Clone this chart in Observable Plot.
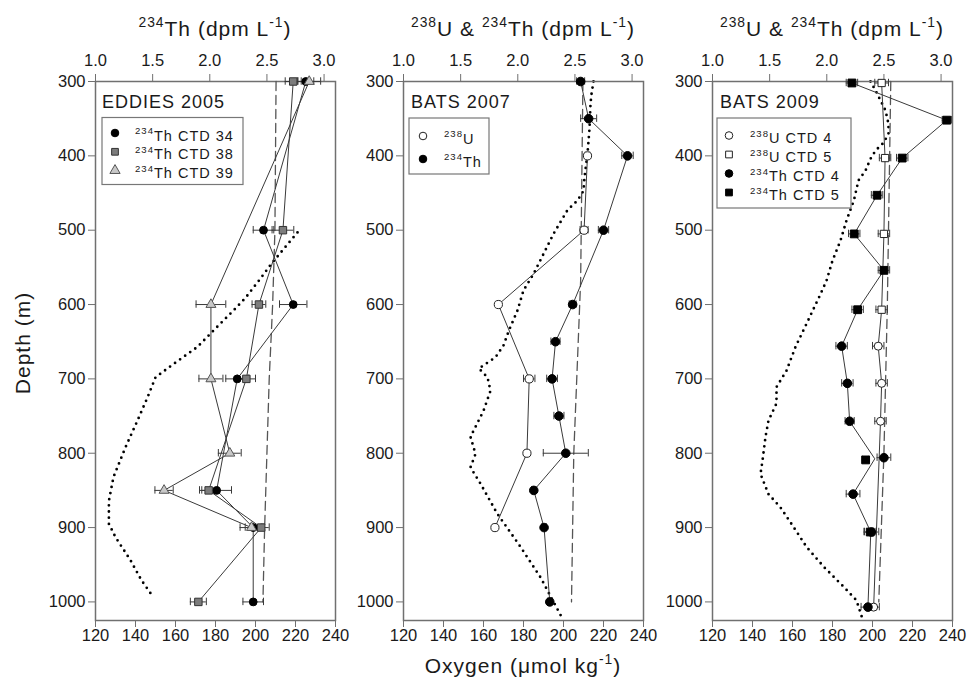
<!DOCTYPE html>
<html><head><meta charset="utf-8">
<script src="https://cdn.jsdelivr.net/npm/d3@7"></script>
<script src="https://cdn.jsdelivr.net/npm/@observablehq/plot@0.6"></script>
<style>
body{margin:0;background:#fff;}
#wrap{position:relative;width:968px;height:680px;overflow:hidden;}
#wrap svg{position:absolute;left:0;top:0;}
</style></head><body><div id="wrap"></div>
<script>
// ---------- tick labels ----------
const depthTicks = [300,400,500,600,700,800,900,1000];
const oxygenTicks = [120,140,160,180,200,220,240];
const thTicks = [1.0,1.5,2.0,2.5,3.0];

// ---------- Panel 1: EDDIES 2005 ----------
const e34Depth = [300,500,600,700,850,900,1000];
const e34Th    = [2.84,2.47,2.73,2.24,2.06,2.38,2.38];
const e34Err   = [0.07,0.09,0.12,0.10,0.13,0.07,0.09];
const e38Depth = [300,500,600,700,850,900,1000];
const e38Th    = [2.73,2.64,2.43,2.32,1.99,2.45,1.90];
const e38Err   = [0.07,0.095,0.06,0.08,0.08,0.07,0.07];
const e39Depth = [300,600,700,800,850,900];
const e39Th    = [2.87,2.01,2.01,2.175,1.60,2.365];
const e39Err   = [0.10,0.13,0.105,0.10,0.08,0.10];
const u2005Depth = [300,500,600,700,800,900,1000];
const u2005      = [2.58,2.57,2.55,2.52,2.50,2.48,2.465];
const oxy2005Depth = [503,545,565,591,608,635,657,680,698,725,756,792,832,864,895,913,944,971,994];
const oxy2005      = [221,208,202.5,195,189,179,171,159,150,146,141,135,129,126.7,126.7,130,137.5,143,149];

// ---------- Panel 2: BATS 2007 ----------
const u2007Depth = [400,500,600,700,800,900];
const u2007      = [2.61,2.58,1.83,2.10,2.08,1.80];
const u2007Err   = [0.02,0.035,0,0.05,0,0];
const th2007Depth = [300,350,400,500,600,650,700,750,800,850,900,1000];
const th2007      = [2.55,2.62,2.96,2.75,2.48,2.33,2.30,2.36,2.42,2.14,2.23,2.28];
const th2007Err   = [0.035,0.07,0.05,0.045,0.03,0.04,0.047,0.044,0.197,0.02,0.02,0.02];
const uRef2007Depth = [300,568,800,1000];
const uRef2007      = [2.57,2.55,2.49,2.47];
const oxy2007Depth = [300,317,330,364,397,429,447,460,473,505,532,559,581,608,635,655,671,686,698,716,743,778,801,819,841,881,926,967,1020];
const oxy2007      = [215,214,213.5,213,212,210.5,210,207,202,195,190,185,180,177,172.7,170,166,157.7,162,163.5,160,153.5,156,153.5,158.5,166.8,178.5,188.5,199];

// ---------- Panel 3: BATS 2009 ----------
const u4Depth = [656,706,757,1007];
const u4      = [2.45,2.48,2.47,2.41];
const u4Err   = [0.05,0.05,0.05,0.05];
const u5Depth = [302,403,505,607];
const u5      = [2.48,2.51,2.50,2.48];
const u5Err   = [0.06,0.05,0.05,0.05];
const th4Depth = [656,706,757,806,855,906,1007];
const th4      = [2.13,2.18,2.20,2.50,2.23,2.39,2.36];
const th4Err   = [0.05,0.05,0.04,0.06,0.06,0.065,0.06];
const th5Depth = [302,352,403,453,505,554,607,809,906];
const th5      = [2.22,3.05,2.66,2.44,2.24,2.50,2.27,2.34,2.38];
const th5Err   = [0.05,0.04,0.05,0.05,0.05,0.05,0.05,0.03,0.05];
const uRef2009Depth = [300,600,800,1000];
const uRef2009      = [2.56,2.53,2.50,2.455];
const oxy2009Depth = [300,312,339,357,370,382,393,404,420,433,460,487,514,541,568,586,626,657,689,711,733,756,778,810,828,855,873,900,926,953,980,998,1023];
const oxy2009      = [199,201.5,206.5,208,208,205.7,201.5,199,196.5,193,190.7,187,184,180,177,174,167,161.5,157,152,152,148,146.5,145,144,148,154,160.7,167,175.7,185.7,192,195];

// ---------- helpers ----------
const rows = (depth, val, err) => depth.map((d, i) => ({depth: d, v: val[i], e: err ? err[i] : 0}));
const FONT = '"Liberation Sans", Arial, Helvetica, sans-serif';
const W = 968, H = 680, TOP = 81, BOTTOM = 60, PW = 240;
const AXIS = "#707070", INK = "#1a1a1a", LINE = "#3a3a3a";

const th5Rows = rows(th5Depth, th5, th5Err), th4Rows = rows(th4Depth, th4, th4Err);
const th2009Line = d3.rollups([...th5Rows, ...th4Rows], g => ({depth: d3.mean(g, d => d.depth), v: d3.mean(g, d => d.v)}), d => Math.round(d.depth / 50))
  .sort((a, b) => a[0] - b[0]).map(d => d[1]);
const u5Rows = rows(u5Depth, u5, u5Err), u4Rows = rows(u4Depth, u4, u4Err);
const u2009Line = [...u5Rows, ...u4Rows].sort((a, b) => a.depth - b.depth);

const panels = [
  {x0: 95, oxygen: rows(oxy2005Depth, oxy2005), uRef: rows(u2005Depth, u2005),
   lines: [rows(e34Depth, e34Th), rows(e38Depth, e38Th), rows(e39Depth, e39Th)],
   series: [
     {data: rows(e34Depth, e34Th, e34Err), symbol: "circle", r: 3.9, fill: "#000", stroke: "#000"},
     {data: rows(e38Depth, e38Th, e38Err), symbol: "square", r: 4.2, fill: "#7c7c7c", stroke: "#333"},
     {data: rows(e39Depth, e39Th, e39Err), symbol: "triangle", r: 3.7, fill: "#c8c8c8", stroke: "#555"}
   ]},
  {x0: 403, oxygen: rows(oxy2007Depth, oxy2007), uRef: rows(uRef2007Depth, uRef2007),
   lines: [rows(u2007Depth, u2007), rows(th2007Depth, th2007)],
   series: [
     {data: rows(u2007Depth, u2007, u2007Err), symbol: "circle", r: 4.1, fill: "#fff", stroke: "#222"},
     {data: rows(th2007Depth, th2007, th2007Err), symbol: "circle", r: 4.3, fill: "#000", stroke: "#000"}
   ]},
  {x0: 712, oxygen: rows(oxy2009Depth, oxy2009), uRef: rows(uRef2009Depth, uRef2009),
   lines: [u2009Line, th2009Line],
   series: [
     {data: u4Rows, symbol: "circle", r: 4.0, fill: "#fff", stroke: "#222"},
     {data: u5Rows, symbol: "square", r: 4.1, fill: "#fff", stroke: "#222"},
     {data: th4Rows, symbol: "circle", r: 4.3, fill: "#000", stroke: "#000"},
     {data: th5Rows, symbol: "square", r: 4.4, fill: "#000", stroke: "#000"}
   ]}
];

const base = p => ({
  width: W, height: H, marginLeft: p.x0, marginRight: W - p.x0 - PW, marginTop: TOP, marginBottom: BOTTOM,
  style: {background: "transparent", fontFamily: FONT, fontSize: "16.5px", color: INK, overflow: "visible"}
});

function oxygenPlot(p) {
  return Plot.plot({
    ...base(p),
    x: {domain: [120, 240]},
    y: {domain: [300, 1025], reverse: true},
    marks: [
      Plot.line(p.oxygen, {x: "v", y: "depth", stroke: "#000", strokeWidth: 2.8, strokeDasharray: "0 6.2", strokeLinecap: "round"}),
      Plot.frame({stroke: AXIS, strokeWidth: 1.5}),
      Plot.axisX({ticks: oxygenTicks, anchor: "bottom", tickSize: 7, tickPadding: 2, stroke: AXIS, fill: INK, label: null, tickFormat: "d"}),
      Plot.axisY({ticks: depthTicks, anchor: "left", tickSize: 7, tickPadding: 3, stroke: AXIS, fill: INK, label: null, tickFormat: "d"})
    ]
  });
}

function thPlot(p) {
  const errs = p.series.map(s => s.data.filter(d => d.e > 0));
  return Plot.plot({
    ...base(p),
    x: {domain: [1.0, 3.1]},
    y: {domain: [300, 1025], reverse: true, axis: null},
    marks: [
      Plot.axisX({ticks: thTicks, anchor: "top", tickSize: 8, tickPadding: 8, stroke: AXIS, fill: INK, label: null, tickFormat: ".1f"}),
      Plot.line(p.uRef, {x: "v", y: "depth", stroke: "#555", strokeWidth: 1.3, strokeDasharray: "9,5"}),
      ...p.lines.map(l => Plot.line(l, {x: "v", y: "depth", stroke: LINE, strokeWidth: 1})),
      ...errs.flatMap(e => [
        Plot.ruleY(e, {x1: d => d.v - d.e, x2: d => d.v + d.e, y: "depth", stroke: LINE, strokeWidth: 1}),
        Plot.ruleX(e, {x: d => d.v - d.e, y1: d => d.depth - 5, y2: d => d.depth + 5, stroke: LINE, strokeWidth: 1}),
        Plot.ruleX(e, {x: d => d.v + d.e, y1: d => d.depth - 5, y2: d => d.depth + 5, stroke: LINE, strokeWidth: 1})
      ]),
      ...p.series.map(s => Plot.dot(s.data, {x: "v", y: "depth", symbol: s.symbol, r: s.r, fill: s.fill, stroke: s.stroke, strokeWidth: 1}))
    ]
  });
}

const wrap = document.getElementById("wrap");
panels.forEach(p => wrap.appendChild(oxygenPlot(p)));
panels.forEach(p => wrap.appendChild(thPlot(p)));

// ---------- annotation layer: titles and legends ----------
const ann = d3.create("svg").attr("width", W).attr("height", H)
  .style("font-family", FONT).style("white-space", "pre");
function rich(x, y, parts, {size = 16, anchor = "start", ls = 1} = {}) {
  const t = ann.append("text").attr("x", x).attr("y", y).attr("font-size", size)
    .attr("text-anchor", anchor).attr("letter-spacing", ls).attr("fill", INK);
  let up = false;
  for (const [s, sup] of parts) {
    const ts = t.append("tspan").text(s);
    if (sup) { ts.attr("font-size", size * 0.66); if (!up) { ts.attr("dy", -size * 0.42); up = true; } }
    else if (up) { ts.attr("dy", size * 0.42); up = false; }
  }
  return t;
}
const thTitle = [["234", 1], ["Th (dpm L", 0], ["-1", 1], [")", 0]];
const uthTitle = [["238", 1], ["U & ", 0], ["234", 1], ["Th (dpm L", 0], ["-1", 1], [")", 0]];
rich(215, 36, thTitle, {size: 21, anchor: "middle"});
rich(523, 36, uthTitle, {size: 21, anchor: "middle"});
rich(832, 36, uthTitle, {size: 21, anchor: "middle"});
rich(523, 673, [["Oxygen (\u03bcmol kg", 0], ["-1", 1], [")", 0]], {size: 21, anchor: "middle"});
ann.append("text").attr("transform", "translate(29.5,343) rotate(-90)").attr("text-anchor", "middle")
  .attr("font-size", 21).attr("letter-spacing", 1).attr("fill", INK).text("Depth (m)");

const symType = {circle: d3.symbolCircle, square: d3.symbolSquare, triangle: d3.symbolTriangle};
function legend(box, title, titlePos, items, symX, textX, baselines) {
  rich(titlePos[0], titlePos[1], [[title, 0]], {size: 18});
  ann.append("rect").attr("x", box[0]).attr("y", box[1]).attr("width", box[2]).attr("height", box[3])
    .attr("fill", "#fff").attr("stroke", "#777").attr("stroke-width", 1.2);
  items.forEach((it, i) => {
    const s = it.s;
    ann.append("path").attr("d", d3.symbol().type(symType[s.symbol]).size(Math.PI * 3.8 * 3.8)())
      .attr("transform", `translate(${symX},${baselines[i] - 7.5})`)
      .attr("fill", s.fill).attr("stroke", s.stroke).attr("stroke-width", 1);
    rich(textX, baselines[i], it.label, {size: 14.5});
  });
}
const P1 = panels[0].series, P2 = panels[1].series, P3 = panels[2].series;
legend([102, 117.5, 141, 67], "EDDIES 2005", [102, 107.5],
  [{s: P1[0], label: [["234", 1], ["Th CTD 34", 0]]},
   {s: P1[1], label: [["234", 1], ["Th CTD 38", 0]]},
   {s: P1[2], label: [["234", 1], ["Th CTD 39", 0]]}], 115, 135, [140.5, 159.3, 178]);
legend([409, 118, 80, 56], "BATS 2007", [411, 108],
  [{s: P2[0], label: [["238", 1], ["U", 0]]},
   {s: P2[1], label: [["234", 1], ["Th", 0]]}], 423, 444, [143.5, 166.5]);
legend([717, 118, 134, 90], "BATS 2009", [720, 107.5],
  [{s: P3[0], label: [["238", 1], ["U CTD 4", 0]]},
   {s: P3[1], label: [["238", 1], ["U CTD 5", 0]]},
   {s: P3[2], label: [["234", 1], ["Th CTD 4", 0]]},
   {s: P3[3], label: [["234", 1], ["Th CTD 5", 0]]}], 729, 750, [143, 162, 181, 200]);
wrap.appendChild(ann.node());
</script></body></html>
